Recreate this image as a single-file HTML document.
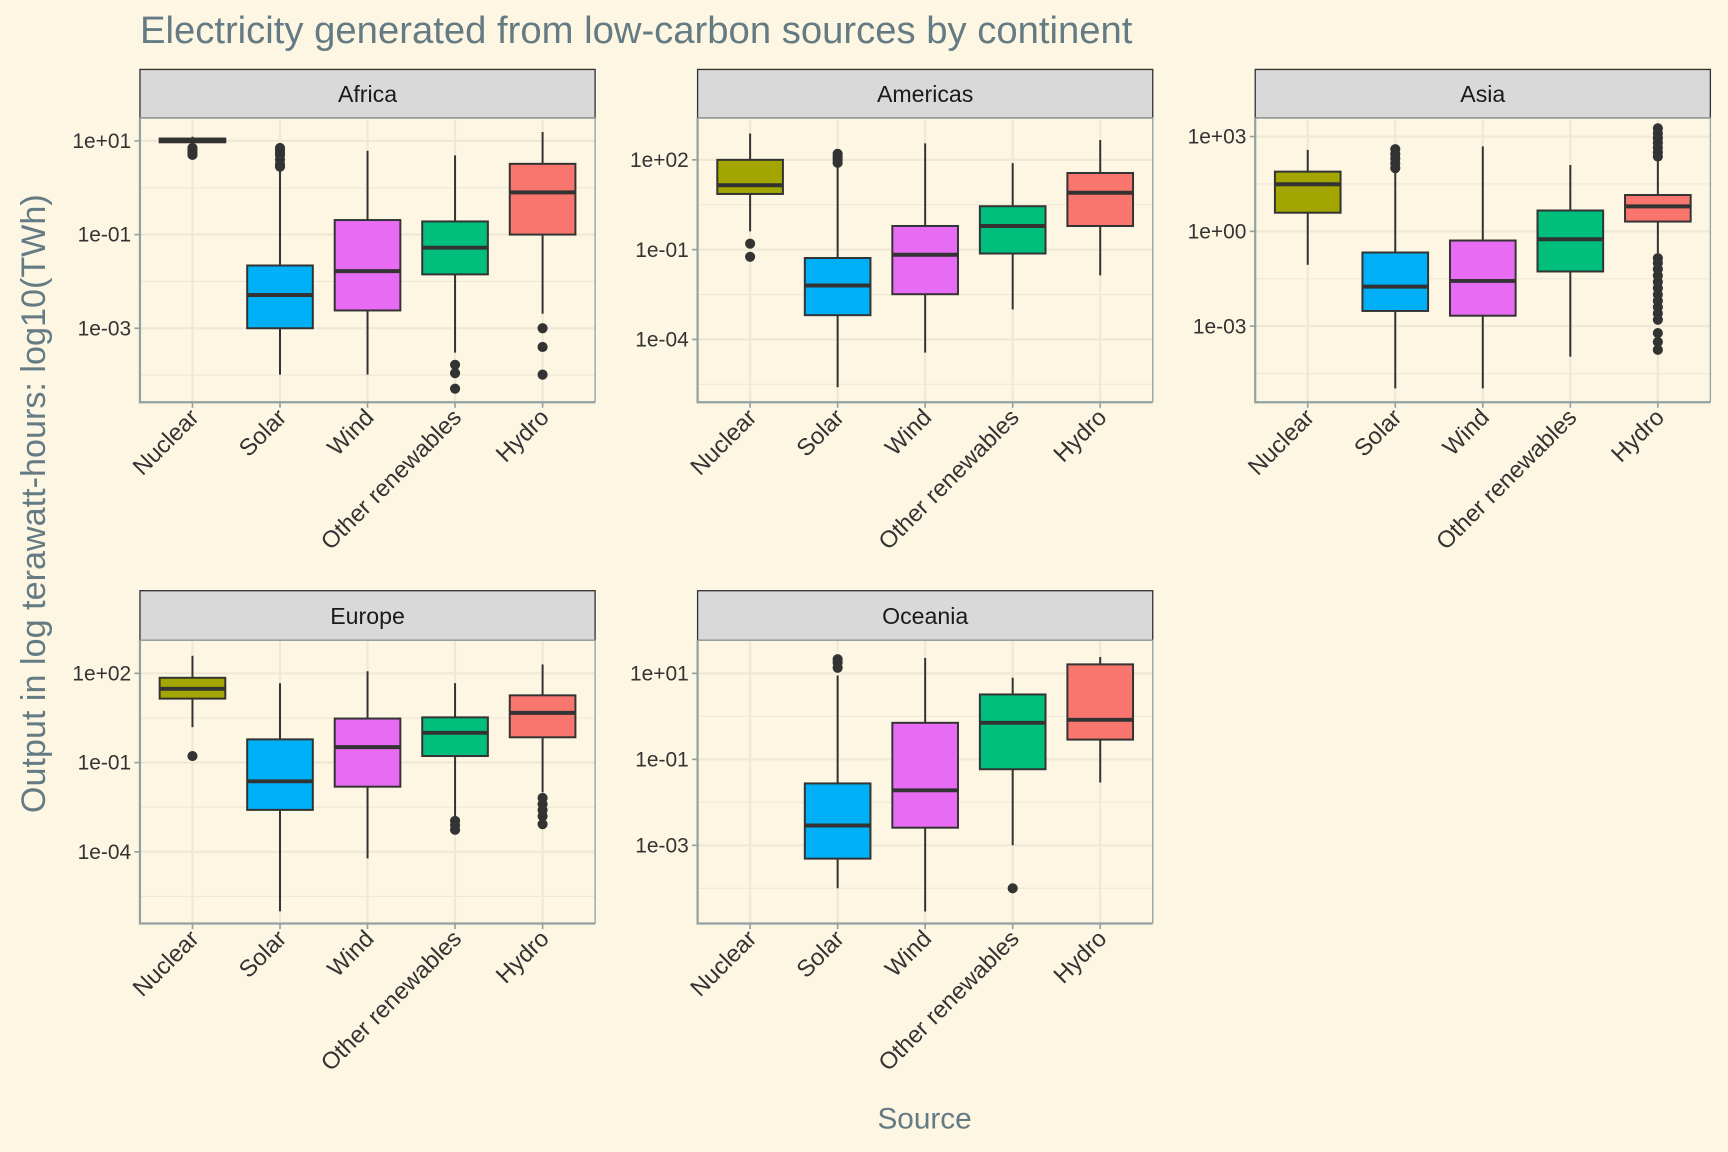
<!DOCTYPE html>
<html><head><meta charset="utf-8"><style>
html,body{margin:0;padding:0;background:#FDF6E3;}
svg{display:block;font-family:"Liberation Sans",sans-serif;}
</style></head><body>
<svg id="chart" width="1728" height="1152" viewBox="0 0 1568 1045.3" xmlns="http://www.w3.org/2000/svg">
<rect x="0" y="0" width="1568" height="1046" fill="#FDF6E3"/>
<text x="127" y="39" font-size="34.7" fill="#657B83">Electricity generated from low-carbon sources by continent</text>
<text x="839" y="1024" font-size="27" fill="#657B83" text-anchor="middle">Source</text>
<text transform="translate(41,457) rotate(-90)" font-size="31" fill="#657B83" text-anchor="middle">Output in log terawatt-hours: log10(TWh)</text>
<g id="panels"></g>
</svg>
<script>
const categories = ["Nuclear","Solar","Wind","Other renewables","Hydro"];
const colors = ["#A3A500","#00B0F6","#E76BF3","#00BF7D","#F8766D"];
const continents = ["Africa","Americas","Asia","Europe","Oceania"];
// values are log10(TWh); null = no data
const africaQ1 = [0.97,-3.0,-2.62,-1.85,-1.0];
const africaMed = [1.0,-2.29,-1.78,-1.28,-0.1];
const africaQ3 = [1.05,-1.66,-0.69,-0.72,0.51];
const africaLo = [0.95,-3.99,-3.99,-3.52,-2.69];
const africaHi = [1.09,0.36,0.79,0.69,1.19];
const africaOut = [[0.85,0.8,0.75,0.7],[0.85,0.8,0.75,0.7,0.6,0.5,0.45],[],[-3.78,-3.96,-4.29],[-3.0,-3.4,-3.99]];
const americasQ1 = [0.86,-3.19,-2.49,-1.13,-0.21];
const americasMed = [1.15,-2.2,-1.17,-0.21,0.9];
const americasQ3 = [2.0,-1.28,-0.21,0.45,1.56];
const americasLo = [-0.39,-5.6,-4.44,-3.0,-1.86];
const americasHi = [2.88,1.8,2.55,1.89,2.66];
const americasOut = [[-0.8,-1.24],[2.2,2.1,2.0,1.9],[],[],[]];
const asiaQ1 = [0.59,-2.52,-2.67,-1.27,0.31];
const asiaMed = [1.49,-1.75,-1.57,-0.25,0.79];
const asiaQ3 = [1.89,-0.67,-0.29,0.66,1.15];
const asiaLo = [-1.06,-4.97,-4.97,-3.97,-0.69];
const asiaHi = [2.58,1.95,2.69,2.1,2.3];
const asiaOut = [[],[2.6,2.45,2.3,2.15,2.0],[],[],[3.26,3.1,2.95,2.8,2.65,2.5,2.37,-0.85,-1.0,-1.2,-1.4,-1.6,-1.8,-2.0,-2.2,-2.4,-2.6,-2.8,-3.22,-3.5,-3.75]];
const europeQ1 = [1.15,-2.59,-1.81,-0.78,-0.15];
const europeMed = [1.48,-1.63,-0.48,0.0,0.67];
const europeQ3 = [1.85,-0.22,0.48,0.52,1.26];
const europeLo = [0.19,-6.0,-4.22,-2.85,-2.0];
const europeHi = [2.59,1.67,2.07,1.67,2.3];
const europeOut = [[-0.78],[],[],[-2.96,-3.1,-3.26],[-2.19,-2.4,-2.6,-2.8,-3.07]];
const oceaniaQ1 = [null,-3.31,-2.59,-1.23,-0.54];
const oceaniaMed = [null,-2.54,-1.72,-0.15,-0.08];
const oceaniaQ3 = [null,-1.56,-0.15,0.51,1.21];
const oceaniaLo = [null,-4.0,-4.54,-3.0,-1.54];
const oceaniaHi = [null,0.95,1.36,0.9,1.38];
const oceaniaOut = [[],[1.33,1.25,1.13],[],[-4.0],[]];
const yDomains = [[-4.58,1.49],[-6.1,3.4],[-5.41,3.59],[-6.41,3.11],[-4.82,1.77]];
const yBreaks = [[1,-1,-3],[2,-1,-4],[3,0,-3],[2,-1,-4],[1,-1,-3]];

const stats = [
 [africaQ1,africaMed,africaQ3,africaLo,africaHi,africaOut],
 [americasQ1,americasMed,americasQ3,americasLo,americasHi,americasOut],
 [asiaQ1,asiaMed,asiaQ3,asiaLo,asiaHi,asiaOut],
 [europeQ1,europeMed,europeQ3,europeLo,europeHi,europeOut],
 [oceaniaQ1,oceaniaMed,oceaniaQ3,oceaniaLo,oceaniaHi,oceaniaOut]];

const NS="http://www.w3.org/2000/svg";
const root=document.getElementById('panels');
function mk(tag,attrs,parent){const e=document.createElementNS(NS,tag);for(const k in attrs)e.setAttribute(k,attrs[k]);parent.appendChild(e);return e;}
function fmt(p){const s=p<0?'-':'+';const a=Math.abs(p);return '1e'+s+(a<10?'0':'')+a;}
const colX=[[127,540],[633,1046],[1139,1552]];
const rowY=[[63,107,365],[536,581,838]];
continents.forEach((name,pi)=>{
  const [x0,x1]=colX[pi%3];const [s0,y0,y1]=rowY[Math.floor(pi/3)];
  const [d0,d1]=yDomains[pi];
  const ys=v=>y1-(v-d0)/(d1-d0)*(y1-y0);
  const band=(x1-x0)/5.2;
  const xs=i=>x0+band*(0.6+i);
  const g=mk('g',{},root);
  
  
  const strip=mk('rect',{x:x0,y:s0,width:x1-x0,height:y0-s0,fill:'#D9D9D9',stroke:'#333','stroke-width':1.2},g);
  
  
  const st=mk('text',{x:(x0+x1)/2,y:(s0+y0)/2+7.5,'font-size':21,fill:'#1A1A1A','text-anchor':'middle'},g);
  st.textContent=name;
  
  
  const br=yBreaks[pi];const step=br[0]-br[1];
  for(let k=-1;k<br.length;k++){const v=br[0]-step/2-k*step; if(v>d0&&v<d1){const l=mk('line',{x1:x0,x2:x1,y1:ys(v),y2:ys(v),stroke:'#EEE8D5','stroke-width':1},g);}}
  br.forEach(v=>{const l=mk('line',{x1:x0,x2:x1,y1:ys(v),y2:ys(v),stroke:'#EEE8D5','stroke-width':2},g);
    const t=mk('line',{x1:x0-5,x2:x0,y1:ys(v),y2:ys(v),stroke:'#93A1A1','stroke-width':1.5},g);
    const tl=mk('text',{x:x0-8,y:ys(v)+6.5,'font-size':19,fill:'#333','text-anchor':'end'},g);tl.textContent=fmt(v);});
  categories.forEach((c,i)=>{const l=mk('line',{x1:xs(i),x2:xs(i),y1:y0,y2:y1,stroke:'#EEE8D5','stroke-width':2},g);});
  const S=stats[pi];
  categories.forEach((c,i)=>{
    if(S[1][i]===null)return;
    const cx=xs(i),hw=band*0.375;
    const bg=mk('g',{},g);
    
    
    mk('line',{x1:cx,x2:cx,y1:ys(S[4][i]),y2:ys(S[2][i]),stroke:'#333','stroke-width':1.8},bg);
    mk('line',{x1:cx,x2:cx,y1:ys(S[0][i]),y2:ys(S[3][i]),stroke:'#333','stroke-width':1.8},bg);
    mk('rect',{x:cx-hw,y:ys(S[2][i]),width:2*hw,height:Math.max(ys(S[0][i])-ys(S[2][i]),1),fill:colors[i],stroke:'#333','stroke-width':1.8},bg);
    mk('line',{x1:cx-hw,x2:cx+hw,y1:ys(S[1][i]),y2:ys(S[1][i]),stroke:'#333','stroke-width':3.6},bg);
    S[5][i].forEach(v=>{const o=mk('circle',{cx:cx,cy:ys(v),r:4.6,fill:'#333'},bg);});
  });
  const al=mk('polyline',{points:`${x0},${y0} ${x0},${y1} ${x1},${y1}`,fill:'none',stroke:'#93A1A1','stroke-width':2},g);
  
  mk('polyline',{points:`${x0},${y0} ${x1},${y0} ${x1},${y1}`,fill:'none',stroke:'#93A1A1','stroke-width':1.2},g);
  categories.forEach((c,i)=>{
    const t=mk('line',{x1:xs(i),x2:xs(i),y1:y1,y2:y1+5,stroke:'#93A1A1','stroke-width':1.5},g);
    const tl=mk('text',{transform:`translate(${xs(i)+7},${y1+15}) rotate(-45)`,'font-size':21.5,fill:'#333','text-anchor':'end'},g);
    tl.textContent=c;
  });
});
</script>
</body></html>
